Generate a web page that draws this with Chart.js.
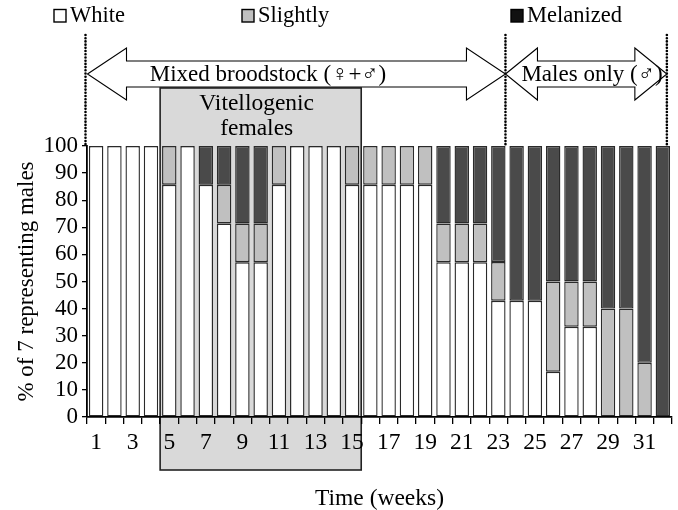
<!DOCTYPE html>
<html>
<head>
<meta charset="utf-8">
<script src="https://cdn.jsdelivr.net/npm/chart.js@4/dist/chart.umd.min.js"></script>
<style>
  html, body { margin: 0; padding: 0; background: #fff; }
  #wrap { width: 678px; height: 510px; position: relative; }
</style>
</head>
<body>
<div id="wrap"><canvas id="c" width="678" height="510"></canvas></div>
<script>
// ---- data ----
const weeks = ['1','2','3','4','5','6','7','8','9','10','11','12','13','14','15','16',
               '17','18','19','20','21','22','23','24','25','26','27','28','29','30','31','32'];
const white     = [100,100,100,100,85.7,100,85.7,71.4,57.1,57.1,85.7,100,100,100,85.7,85.7,
                   85.7,85.7,85.7,57.1,57.1,57.1,42.9,42.9,42.9,16.7,33.3,33.3,0,0,0,0];
const slightly  = [0,0,0,0,14.3,0,0,14.3,14.3,14.3,14.3,0,0,0,14.3,14.3,
                   14.3,14.3,14.3,14.3,14.3,14.3,14.3,0,0,33.3,16.7,16.7,40,40,20,0];
const melanized = [0,0,0,0,0,0,14.3,14.3,28.6,28.6,0,0,0,0,0,0,
                   0,0,0,28.6,28.6,28.6,42.9,57.1,57.1,50,50,50,60,60,80,100];
const yTicks = [0,10,20,30,40,50,60,70,80,90,100];
const seriesNames = ['White','Slightly','Melanized'];
const phaseLabels = ['Mixed broodstock (\u2640+\u2642)', 'Males only (\u2642)'];
const boxLabels = ['Vitellogenic', 'females'];
const vitelloWeeks = ['5','15'];   // first and last week of the shaded period
const phaseSplitWeek = '23';       // last week of mixed broodstock

const FONT = '"Liberation Serif", "Times New Roman", serif';
const COLORS = ['#ffffff', '#c0c0c0', '#4a4a4a'];

function catWidth(x) { return (x.right - x.left) / weeks.length; }

const annotations = {
  id: 'annotations',
  beforeDraw(chart) {
    const ctx = chart.ctx, x = chart.scales.x;
    const cw = catWidth(x);
    const l = x.getPixelForValue(weeks.indexOf(vitelloWeeks[0])) - cw / 2;
    const r = x.getPixelForValue(weeks.indexOf(vitelloWeeks[1])) + cw / 2;
    const top = 88, bottom = 470;
    ctx.save();
    ctx.fillStyle = '#d9d9d9';
    ctx.fillRect(l, top, r - l, bottom - top);
    ctx.strokeStyle = '#222';
    ctx.lineWidth = 1.6;
    ctx.strokeRect(l, top, r - l, bottom - top);
    ctx.fillStyle = '#000';
    ctx.font = '23.5px ' + FONT;
    ctx.textAlign = 'center';
    ctx.textBaseline = 'middle';
    ctx.fillText(boxLabels[0], (l + r) / 2 - 4, 104);
    ctx.fillText(boxLabels[1], (l + r) / 2 - 4, 129);
    ctx.restore();
  },
  afterDraw(chart) {
    const ctx = chart.ctx, x = chart.scales.x, a = chart.chartArea;
    const cw = catWidth(x);
    const xL = a.left - 1.5;
    const xM = x.getPixelForValue(weeks.indexOf(phaseSplitWeek)) + cw / 2 - 2;
    const xR = x.getPixelForValue(weeks.length - 1) + 4;
    ctx.save();
    // dotted vertical lines
    ctx.strokeStyle = '#000';
    ctx.lineWidth = 2.6;
    ctx.lineCap = 'round';
    ctx.setLineDash([0.01, 3.2]);
    [xL, xM, xR].forEach(px => {
      ctx.beginPath();
      ctx.moveTo(px, 35);
      ctx.lineTo(px, a.top);
      ctx.stroke();
    });
    ctx.setLineDash([]);
    ctx.lineCap = 'butt';
    // double arrows
    const cy = 74, sh = 13, hh = 26;
    function dblArrow(x0, x1, head) {
      ctx.beginPath();
      ctx.moveTo(x0, cy);
      ctx.lineTo(x0 + head, cy - hh);
      ctx.lineTo(x0 + head, cy - sh);
      ctx.lineTo(x1 - head, cy - sh);
      ctx.lineTo(x1 - head, cy - hh);
      ctx.lineTo(x1, cy);
      ctx.lineTo(x1 - head, cy + hh);
      ctx.lineTo(x1 - head, cy + sh);
      ctx.lineTo(x0 + head, cy + sh);
      ctx.lineTo(x0 + head, cy + hh);
      ctx.closePath();
      ctx.fillStyle = '#fff';
      ctx.fill();
      ctx.lineWidth = 1.1;
      ctx.strokeStyle = '#000';
      ctx.stroke();
    }
    dblArrow(xL + 2, xM, 39);
    dblArrow(xM, xR, 32);
    ctx.fillStyle = '#000';
    ctx.font = '23px ' + FONT;
    ctx.textAlign = 'center';
    ctx.textBaseline = 'middle';
    ctx.fillText(phaseLabels[0], 268, cy + 1);
    ctx.fillText(phaseLabels[1], 592, cy + 1);
    // legend
    const legendX = [54, 242, 511];
    ctx.font = '22.5px ' + FONT;
    ctx.textAlign = 'left';
    seriesNames.forEach((name, i) => {
      const bx = legendX[i];
      ctx.fillStyle = i === 2 ? '#111' : COLORS[i];
      ctx.fillRect(bx, 9.5, 12, 12.5);
      ctx.lineWidth = 1.4;
      ctx.strokeStyle = '#000';
      ctx.strokeRect(bx, 9.5, 12, 12.5);
      ctx.fillStyle = '#000';
      ctx.fillText(name, bx + 16, 16);
    });
    ctx.restore();
  }
};

const datasets = [white, slightly, melanized].map((d, i) => ({
  label: seriesNames[i],
  data: d,
  backgroundColor: COLORS[i],
  borderColor: '#2a2a2a',
  borderWidth: 1.4,
  borderSkipped: false,
  categoryPercentage: 1.0,
  barPercentage: 0.79
}));

new Chart(document.getElementById('c'), {
  type: 'bar',
  data: { labels: weeks, datasets },
  options: {
    responsive: false,
    animation: false,
    devicePixelRatio: 1,
    layout: { padding: { top: 146, right: 6, left: 0, bottom: 0 } },
    plugins: { legend: { display: false }, tooltip: { enabled: false } },
    scales: {
      x: {
        stacked: true,
        grid: { drawOnChartArea: false, drawTicks: true, tickLength: 7, color: '#000', lineWidth: 1.3, offset: true },
        border: { display: true, color: '#000', width: 1.8 },
        ticks: {
          autoSkip: false, maxRotation: 0, padding: 5, color: '#000',
          font: { family: FONT, size: 23.5 },
          callback: function (v, i) { return i % 2 === 0 ? weeks[i] : ''; }
        },
        title: { display: true, text: 'Time (weeks)', color: '#000', font: { family: FONT, size: 23.5 }, padding: { top: 0, bottom: -3 } },
        afterFit(s) { s.height = 93; }
      },
      y: {
        stacked: true,
        min: 0, max: 100,
        afterBuildTicks(s) { s.ticks = yTicks.map(v => ({ value: v })); },
        grid: { drawOnChartArea: false, drawTicks: true, tickLength: 5, color: '#000', lineWidth: 1.3 },
        border: { display: true, color: '#000', width: 1.8 },
        ticks: { autoSkip: false, padding: 4, color: '#000', font: { family: FONT, size: 23 } },
        title: { display: true, text: '% of 7 representing males', color: '#000', font: { family: FONT, size: 23 }, padding: { top: 13, bottom: 0 } },
        afterFit(s) { s.width = 87; }
      }
    }
  },
  plugins: [annotations]
});
</script>
</body>
</html>
